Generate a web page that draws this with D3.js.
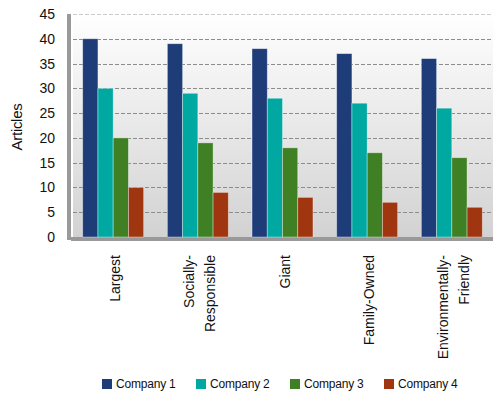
<!DOCTYPE html>
<meta charset="utf-8">
<title>Articles by company</title>
<style>
body { margin: 0; background: #fff; }
text { font-family: "Liberation Sans", Arial, sans-serif; fill: #111; }
.grid line { stroke: #8c8c8c; stroke-dasharray: 4 2; }
</style>
<svg width="493" height="395"></svg>
<script src="https://cdn.jsdelivr.net/npm/d3@7"></script>
<script>

// data
var categories = ["Largest", "Socially-Responsible", "Giant", "Family-Owned", "Environmentally-Friendly"];
var categoryLines = [["Largest"], ["Socially-", "Responsible"], ["Giant"], ["Family-Owned"], ["Environmentally-", "Friendly"]];
var series = ["Company 1", "Company 2", "Company 3", "Company 4"];
var company1 = [40, 39, 38, 37, 36];
var company2 = [30, 29, 28, 27, 26];
var company3 = [20, 19, 18, 17, 16];
var company4 = [10, 9, 8, 7, 6];
var yTicks = [0, 5, 10, 15, 20, 25, 30, 35, 40, 45];
var colors = ["#1d3c78", "#00a8a2", "#3f8025", "#a0360f"];

var values = [company1, company2, company3, company4];

var svg = d3.select("svg");

// plot box (named to avoid window.top)
var plotL = 70, plotR = 495, plotT = 14, plotB = 237;

var x0 = d3.scaleBand().domain(categories).range([plotL, plotR])
    .paddingInner(0.28).paddingOuter(0.15);
var x1 = d3.scaleBand().domain(series).range([0, x0.bandwidth()]);
var y = d3.scaleLinear().domain([0, 45]).range([plotB, plotT]);

// background gradient
var grad = svg.append("defs").append("linearGradient")
    .attr("id", "bg").attr("x1", 0).attr("y1", 0).attr("x2", 0).attr("y2", 1);
grad.append("stop").attr("offset", "0%").attr("stop-color", "#ffffff");
grad.append("stop").attr("offset", "100%").attr("stop-color", "#d2d2d2");

svg.append("rect")
    .attr("x", plotL + 3).attr("y", plotT)
    .attr("width", 493 - plotL - 3).attr("height", plotB - plotT)
    .attr("fill", "url(#bg)");

// gridlines
svg.append("g").attr("class", "grid")
  .selectAll("line")
  .data(yTicks.filter(function(d) { return d > 0; }))
  .enter().append("line")
    .attr("x1", plotL + 3).attr("x2", 493)
    .attr("y1", function(d) { return Math.round(y(d)) + 0.5; })
    .attr("y2", function(d) { return Math.round(y(d)) + 0.5; })
    .attr("stroke-opacity", function(d) { return d === 45 ? 0.45 : 1; });

// wall and floor
svg.append("rect").attr("x", plotL - 3).attr("y", plotT)
    .attr("width", 4).attr("height", plotB - plotT + 3).attr("fill", "#9a9a9a");
svg.append("rect").attr("x", plotL + 1).attr("y", plotB)
    .attr("width", 493 - plotL).attr("height", 4).attr("fill", "#999999");

// bars
var group = svg.append("g").selectAll("g")
  .data(categories)
  .enter().append("g")
    .attr("transform", function(d) { return "translate(" + x0(d) + ",0)"; });

group.selectAll("rect")
  .data(function(d, i) { return series.map(function(s, j) { return { s: s, v: values[j][i], c: colors[j] }; }); })
  .enter().append("rect")
    .attr("x", function(d) { return x1(d.s); })
    .attr("y", function(d) { return y(d.v); })
    .attr("width", x1.bandwidth())
    .attr("height", function(d) { return y(0) - y(d.v); })
    .attr("fill", function(d) { return d.c; })
    .attr("stroke", "#ffffff").attr("stroke-opacity", 0.45).attr("stroke-width", 0.8);

// y axis labels
svg.append("g").selectAll("text")
  .data(yTicks)
  .enter().append("text")
    .attr("x", 55)
    .attr("y", function(d) { return y(d); })
    .attr("dy", "0.36em")
    .attr("text-anchor", "end")
    .style("font-size", "14px")
    .text(function(d) { return d; });

svg.append("text")
    .attr("transform", "translate(22,127) rotate(-90)")
    .attr("text-anchor", "middle")
    .style("font-size", "15px")
    .style("letter-spacing", "-0.3px")
    .text("Articles");

// category labels
var lineH = 21;
svg.append("g").selectAll("text")
  .data(categories)
  .enter().append("text")
    .attr("transform", function(d) { return "translate(" + (x0(d) + x0.bandwidth() / 2 + 2) + ",255) rotate(-90)"; })
    .attr("text-anchor", "end")
    .style("font-size", "14px")
    .each(function(d, i) {
      var lines = categoryLines[i];
      var t = d3.select(this);
      lines.forEach(function(l, k) {
        t.append("tspan")
          .attr("x", 0)
          .attr("y", (k - (lines.length - 1) / 2) * lineH)
          .attr("dy", "0.36em")
          .text(l);
      });
    });

// legend
var legend = svg.append("g").selectAll("g")
  .data(series)
  .enter().append("g")
    .attr("transform", function(d, i) { return "translate(" + (102 + i * 94) + ",379)"; });

legend.append("rect")
    .attr("width", 10).attr("height", 10)
    .attr("fill", function(d, i) { return colors[i]; });

legend.append("text")
    .attr("x", 14).attr("y", 5).attr("dy", "0.36em")
    .style("font-size", "12px")
    .style("letter-spacing", "-0.2px")
    .text(function(d) { return d; });

</script>
